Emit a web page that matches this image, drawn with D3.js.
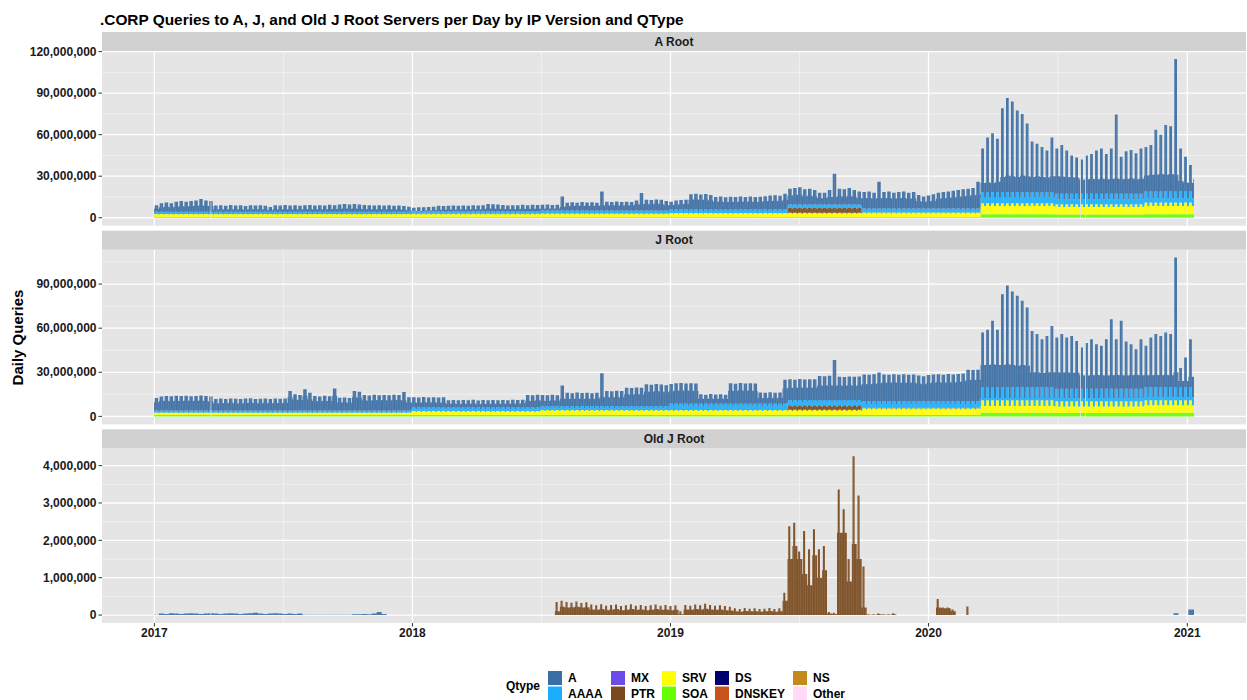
<!DOCTYPE html>
<html>
<head>
<meta charset="utf-8">
<script src="https://cdn.jsdelivr.net/npm/d3@7"></script>
<style>
  body { margin: 0; background: #fff; }
  svg { display: block; font-family: "Liberation Sans", Arial, sans-serif; }
</style>
</head>
<body>
<svg id="chart" width="1247" height="700"></svg>
<script>
// ---- data (daily query counts, millions) ----
var qtypes = ["A", "AAAA", "MX", "PTR", "SRV", "SOA", "DS", "DNSKEY", "NS", "Other"];
var qtypeColors = ["#3b6ea5", "#1aaeff", "#6b4ce6", "#7a4a1e", "#ffff00", "#66ff00", "#000070", "#c8531a", "#c4891c", "#ffd9f5"];
var facetNames = ["A Root", "J Root", "Old J Root"];

var firstDay = "2017-01-01", lastDay = "2021-01-10";
var missingDays = ["2017-03-22", "2020-08-03", "2020-08-10"];

var yearTicks = ["2017-01-01", "2018-01-01", "2019-01-01", "2020-01-01", "2021-01-01"];
var yearLabels = ["2017", "2018", "2019", "2020", "2021"];
var aRootTicks = [0, 30e6, 60e6, 90e6, 120e6];
var jRootTicks = [0, 30e6, 60e6, 90e6];
var oldJTicks = [0, 1e6, 2e6, 3e6, 4e6];

// periods for the slowly changing qtypes
var periodStart = ["2017-01-01", "2017-12-31", "2018-07-01", "2018-12-30", "2019-06-16", "2019-09-29", "2020-03-15", "2020-06-28", "2020-11-01"];
var peakDays = [5, 5, 5, 5, 5, 5, 4, 4, 4];   // busy days per week in each period

var aRootSoa    = [0.5, 0.5, 0.5, 0.6, 0.6, 0.6, 2.5, 2.3, 2.5];
var aRootSrvHi  = [2.2, 2.3, 2.6, 2.8, 3.0, 3.1, 8.0, 7.5, 8.5];
var aRootSrvLo  = [1.8, 1.8, 2.1, 2.3, 2.5, 2.6, 6.0, 5.5, 6.0];
var aRootPtr    = [0, 0, 0, 0, 3.5, 0.2, 0, 0, 0];
var aRootAaaaHi = [1.7, 1.8, 2.2, 2.5, 2.5, 2.8, 8.0, 7.5, 8.0];
var aRootAaaaLo = [1.3, 1.4, 1.7, 2.0, 2.0, 2.3, 6.0, 5.5, 5.5];

var jRootSoa    = [1.0, 1.0, 1.0, 1.0, 1.0, 1.0, 2.5, 2.3, 2.5];
var jRootSrvHi  = [1.7, 2.6, 3.4, 3.4, 3.6, 4.6, 8.5, 8.0, 8.5];
var jRootSrvLo  = [1.3, 2.0, 2.6, 2.6, 2.8, 3.8, 4.5, 4.5, 5.0];
var jRootPtr    = [0, 0, 0, 0, 3.0, 0.2, 0, 0, 0];
var jRootAaaaHi = [1.3, 2.4, 2.6, 4.2, 3.6, 4.5, 9.0, 8.5, 9.0];
var jRootAaaaLo = [0.9, 1.8, 2.0, 3.2, 2.8, 3.5, 5.5, 5.5, 5.5];

// weekly A queries (busy day / quiet day), weeks from 2017-01-01
var aRootAHi = [
  4.6,6.1,6.6,6.1,7.1,7.6,7.1,7.6,8.1,9.1,8.1,7.6,
  4.4,4.6,4.2,4.8,4.4,4.6,4.1,4.7,4.4,4.6,4.3,3.4,
  4.6,4.4,4.8,4.5,4.7,4.3,4.6,4.8,4.4,4.6,4.5,4.9,4.6,
  5.2,5.5,5.1,5.6,5.2,
  4.8,4.6,4.5,4.7,4.4,4.6,4.3,4.5,4.1,3.6,
  2.6,2.9,3.0,3.1,3.3,
  4.0,3.9,4.1,4.2,4.0,4.3,4.1,4.4,4.2,4.5,
  5.3,5.2,5.0,4.6,4.3,4.5,4.4,4.7,4.5,4.8,4.6,
  4.0,4.2,3.9,4.1,10.1,5.5,5.8,5.6,6.0,5.7,5.9,5.6,
  13.7,6.2,6.0,6.4,6.1,6.3,6.0,7.2,12.5,
  7.7,7.5,7.9,7.6,6.8,
  5.6,6.6,6.9,7.1,11.1,11.5,10.8,11.3,10.6,
  9.1,9.4,8.9,9.3,9.0,9.5,9.1,9.4,9.0,9.3,9.6,
  10.1,10.4,10.0,11.5,
  11.4,11.9,12.4,10.9,11.4,10.4,8.4,8.4,10.4,22.2,
  11.4,10.9,11.9,10.4,9.4,
  11.8,12.3,11.3,19.3,11.8,12.3,11.3,11.8,12.3,11.3,11.8,
  9.8,8.7,9.3,10.3,
  11.3,11.8,12.3,12.8,13.3,13.8,14.3,14.8,19.3,
  31.5,39.5,42.5,38.5,60.5,68,65.5,59,56.5,49.5,36.5,35,32.5,30,39.5,
  32.7,35.2,31.2,27.7,26.2,24.7,27.7,28.7,31.2,32.7,28.7,32.7,57.2,26.7,30.7,31.7,29.2,32.7,
  32,33.5,44.6,41,48,47,95.7,31,25,19,33
];
var aRootALo = [
  2.9,3.9,4.4,3.9,4.4,4.9,4.4,4.9,4.9,5.4,4.9,4.9,
  2.4,2.6,2.3,2.6,2.4,2.5,2.2,2.6,2.4,2.5,2.3,1.8,
  2.5,2.4,2.6,2.4,2.6,2.3,2.5,2.6,2.4,2.5,2.4,2.7,2.5,
  2.9,3.1,2.8,3.1,2.9,
  2.6,2.5,2.4,2.6,2.4,2.5,2.3,2.4,2.1,1.6,
  0.9,1.2,1.4,1.5,1.6,
  2.0,2.1,2.2,2.1,2.2,2.3,2.2,2.4,2.3,2.5,
  3.0,2.9,2.8,2.6,2.4,2.5,2.5,2.7,2.6,2.8,2.7,
  2.2,2.4,2.1,2.3,3.4,4.0,4.3,4.1,4.4,4.2,4.3,4.1,
  4.5,4.7,4.5,4.8,4.6,4.7,4.5,5.2,5.5,
  5.7,5.5,5.9,5.6,4.8,
  4.1,4.6,4.9,5.1,8.1,8.4,7.9,8.2,7.6,
  6.6,6.8,6.4,6.7,6.5,6.9,6.6,6.8,6.5,6.7,7.0,
  7.1,7.3,7.0,8.0,
  7.4,7.8,8.2,7.0,7.4,6.8,5.4,5.4,6.4,6.4,
  6.9,6.6,7.2,6.5,5.4,
  8.3,8.6,8.0,8.5,8.3,8.6,8.0,8.3,8.6,8.0,8.3,
  6.3,5.8,6.0,6.6,
  8.0,8.3,8.7,9.0,9.4,9.8,10.1,10.5,11.0,
  10.5,11,10.5,11.5,15,16,15.5,15,16,15.5,15,15.5,15,14.5,15.5,
  16.7,16.5,16.2,16,15.5,14.2,14.5,14.7,14.5,14.8,14.5,14.7,15,14.5,14.7,15,14.5,14.8,
  16.5,17,17,17.5,17,17.5,17,12.5,11.5,11,14
];

var jRootAHi = [
  8.5,9.6,9.9,9.7,10.0,9.8,10.1,9.7,9.9,10.2,9.8,9.6,
  7.8,8.1,7.9,8.2,8.0,7.8,8.1,8.3,7.9,8.0,8.2,7.9,8.1,8.0,8.2,
  13.3,11.0,10.6,14.4,12.0,9.8,9.6,10.0,9.7,14.9,8.7,8.9,8.5,13.3,12.8,
  10.5,10.2,10.7,10.4,10.6,10.3,10.8,10.5,12.6,9.0,
  7.0,6.8,7.2,6.9,7.1,6.8,7.0,
  5.0,5.2,4.9,5.1,5.0,5.3,4.8,5.1,5.0,5.2,4.9,5.1,5.0,5.3,5.1,5.4,
  8.5,8.3,8.7,
  7.5,7.3,7.7,7.4,14.0,9.0,8.8,9.2,8.9,9.1,8.8,9.0,
  22.3,10.3,10.1,10.5,10.2,12.5,12.3,12.7,12.4,
  14.8,14.6,15.0,14.7,14.2,
  13.5,13.9,14.1,13.8,14.0,13.7,
  6.4,6.2,6.6,6.3,6.5,6.2,
  13.9,13.6,14.1,13.8,14.0,13.7,
  7.6,7.4,7.8,7.5,7.7,16.4,
  14.0,13.8,14.2,13.9,14.1,14.0,16.3,16.1,16.5,27.2,
  15.8,15.6,16.0,15.7,15.9,
  18.2,18.0,18.4,19.5,
  18.2,18.0,18.4,18.1,18.3,18.0,18.2,17.5,17.0,17.8,18.2,18.4,18.1,18.5,18.2,18.6,18.9,
  21.5,21.3,21.5,
  37,39,45,39,63,69,65,62,58.6,54,38,36,32.5,34.7,41.5,
  34.8,37.2,34.8,35.9,32.5,28,31.2,33.7,30.2,29.2,33.7,47.2,33.7,46.2,32.2,30.2,26.9,33.7,
  28,33.6,36,34.7,37,36,88,13,20,32.5,34.7
];
var jRootALo = [
  6.5,7.2,7.4,7.1,7.5,7.3,7.6,7.2,7.4,7.6,7.3,7.0,
  5.6,5.9,5.7,6.0,5.8,5.6,5.9,6.1,5.7,5.8,6.0,5.7,5.9,5.8,6.0,
  9.8,8.3,8.0,10.8,8.5,7.3,7.1,7.5,7.2,10.8,6.3,6.5,6.1,9.8,9.4,
  7.8,7.5,8.0,7.7,7.9,7.6,8.1,7.8,7.8,6.3,
  4.7,4.5,4.9,4.6,4.8,4.5,4.7,
  3.7,3.9,3.6,3.8,3.7,4.0,3.5,3.8,3.7,3.9,3.6,3.8,3.7,4.0,3.8,4.1,
  5.9,5.7,6.1,
  5.1,4.9,5.3,5.0,6.4,6.4,6.2,6.6,6.3,6.5,6.2,6.4,
  7.4,7.4,7.2,7.6,7.3,9.4,9.2,9.6,9.3,
  11.4,11.2,11.6,11.3,10.8,
  10.3,10.7,10.9,10.6,10.8,10.5,
  5.2,5.0,5.4,5.1,5.3,5.0,
  10.7,10.4,10.9,10.6,10.8,10.5,
  5.7,5.5,5.9,5.6,5.8,12.2,
  9.9,9.7,10.1,9.8,10.0,9.9,11.4,11.2,11.6,11.4,
  11.4,11.2,11.6,11.3,11.5,
  13.5,13.3,13.7,14.0,
  14.5,14.3,14.7,14.4,14.6,14.3,14.5,13.8,13.3,14.1,14.5,14.7,14.4,14.8,14.5,14.9,15.2,
  16.5,16.3,16.5,
  22.5,22.5,23,22.5,22.5,23,22.5,22,22.5,22,17.5,17.5,17,17.5,17.5,
  17.7,17.5,17.7,17.3,17.5,15.7,15.5,15.7,15.9,15.7,15.5,15.7,15.9,15.7,15.5,15.7,15.9,15.7,
  15,15,15.2,15,15.2,15,17,11,11,14,14
];

// Old J root: weekly PTR (busy / quiet days) and A
var oldJPeakDays = 3;
var oldJPtrHi = [
  0,0,0,0,0,0,0,0,0,0,0,0,0,0,0,0,0,0,0,0,
  0,0,0,0,0,0,0,0,0,0,0,0,0,0,0,0,0,0,0,0,
  0,0,0,0,0,0,0,0,0,0,0,0,0,0,0,0,0,0,0,0,
  0,0,0,0,0,0,0,0,0,0,0,0,0,0,0,0,0,0,0,0,
  0,
  0.35,
  0.38,0.35,0.33,0.36,0.32,0.34,
  0.28,0.26,0.29,0.25,0.27,0.28,0.24,0.26,0.29,0.25,0.27,0.24,0.26,0.28,0.25,0.27,0.24,0.26,
  0.1,
  0.27,0.25,0.28,0.26,0.3,0.27,0.25,0.26,0.24,0.22,
  0.18,0.16,0.19,0.17,0.18,0.16,0.17,0.19,0.16,0.18,
  0.6,2.38,2.47,1.7,2.25,1.76,2.3,1.76,1.85,
  0.08,0.06,
  3.36,2.83,1.5,4.25,3.2,1.3,
  0.02,0.02,0.04,0.02,0.02,
  0.05,
  0,0,0,0,0,0,0,0,
  0.43,0.2,0.2,0.15,
  0,0,
  0.23,
  0,0,0,0,0,0,0,0,0,0,0,0,0,0,0,0,0,0,0,0,0,0,0,0,0,0,0,0,0,0,0,0,0,0,0,0,0,0,0,0,0,0,0,0,0,0
];
var oldJPtrLo = [
  0,0,0,0,0,0,0,0,0,0,0,0,0,0,0,0,0,0,0,0,
  0,0,0,0,0,0,0,0,0,0,0,0,0,0,0,0,0,0,0,0,
  0,0,0,0,0,0,0,0,0,0,0,0,0,0,0,0,0,0,0,0,
  0,0,0,0,0,0,0,0,0,0,0,0,0,0,0,0,0,0,0,0,
  0,
  0.1,
  0.22,0.2,0.21,0.22,0.2,0.21,
  0.15,0.14,0.16,0.13,0.15,0.16,0.13,0.14,0.16,0.14,0.15,0.13,0.14,0.16,0.14,0.15,0.13,0.14,
  0.02,
  0.15,0.14,0.16,0.15,0.17,0.15,0.14,0.15,0.13,0.12,
  0.1,0.09,0.11,0.1,0.1,0.09,0.1,0.11,0.09,0.1,
  0.38,1.5,1.85,1.5,1.1,0.8,1.6,1.0,1.2,
  0.04,0.03,
  2.2,2.2,0.9,1.9,1.5,0.2,
  0.01,0.01,0.02,0.01,0.01,
  0.02,
  0,0,0,0,0,0,0,0,
  0.2,0.18,0.18,0.1,
  0,0,
  0,
  0,0,0,0,0,0,0,0,0,0,0,0,0,0,0,0,0,0,0,0,0,0,0,0,0,0,0,0,0,0,0,0,0,0,0,0,0,0,0,0,0,0,0,0,0,0
];
var oldJA = [
  0.01,
  0.04,0.03,0.05,0.04,0.03,0.04,0.05,0.04,0.03,0.04,0.05,0.04,0.03,0.04,0.05,0.04,0.03,0.04,0.05,0.06,0.04,0.03,0.04,0.05,0.04,0.03,0.04,0.03,0.04,
  0.01,0.01,0.01,0.01,0.01,0.01,0.01,0.01,0.01,0.01,
  0.02,0.02,0.03,0.02,0.04,0.08,0.03,
  0,0,0,0,0,0,0,0,0,0,0,0,0,0,0,0,0,0,0,0,
  0,0,0,0,0,0,0,0,0,0,0,0,0,0,0,0,0,0,0,0,
  0,0,0,0,0,0,0,0,0,0,0,0,0,0,0,0,0,0,0,0,
  0,0,0,0,0,0,0,0,0,0,0,0,0,0,0,0,0,0,0,0,
  0,0,0,0,0,0,0,0,0,0,0,0,0,0,0,0,0,0,0,0,
  0,0,0,0,0,0,0,0,0,0,0,0,0,0,0,0,0,0,0,0,
  0,0,0,0,0,0,0,0,0,0,0,0,0,0,0,0,0,0,0,0,
  0,0,0,0,0,0,0,0,0,0,0,0,0,0,0,0,0,0,0,
  0.05,
  0,0,
  0.15,0.15
];

// ---- layout ----
var W = 1247, H = 700;
var panelLeft = 102, panelRight = 1246;
var facetTop = 32, facetBottom = 623, facetGap = 5, stripH = 19;
var panelFill = "#e5e5e5", stripFill = "#d1d1d1";
var facetH = (facetBottom - facetTop - 2 * facetGap) / 3;

var facets = [
  { name: facetNames[0], ticks: aRootTicks, peak: peakDays,
    weekly: { A: [aRootAHi, aRootALo] },
    periodic: { AAAA: [aRootAaaaHi, aRootAaaaLo], PTR: [aRootPtr, aRootPtr], SRV: [aRootSrvHi, aRootSrvLo], SOA: [aRootSoa, aRootSoa] } },
  { name: facetNames[1], ticks: jRootTicks, peak: peakDays,
    weekly: { A: [jRootAHi, jRootALo] },
    periodic: { AAAA: [jRootAaaaHi, jRootAaaaLo], PTR: [jRootPtr, jRootPtr], SRV: [jRootSrvHi, jRootSrvLo], SOA: [jRootSoa, jRootSoa] } },
  { name: facetNames[2], ticks: oldJTicks, peak: oldJPeakDays,
    weekly: { A: [oldJA, oldJA], PTR: [oldJPtrHi, oldJPtrLo] },
    periodic: {} }
];

[aRootAHi, aRootALo, jRootAHi, jRootALo, oldJPtrHi, oldJPtrLo, oldJA].forEach(function(a, i) {
  if (a.length !== 211) throw new Error("weekly array " + i + " has " + a.length);
});

var parseDay = d3.utcParse("%Y-%m-%d");
var days = d3.utcDay.range(parseDay(firstDay), d3.utcDay.offset(parseDay(lastDay), 1));
var periodDates = periodStart.map(parseDay);
var missing = new Set(missingDays.map(function(s) { return +parseDay(s); }));
var color = d3.scaleOrdinal().domain(qtypes).range(qtypeColors);

function buildRows(f) {
  return days.map(function(date, i) {
    var row = { date: date };
    qtypes.forEach(function(q) { row[q] = 0; });
    if (missing.has(+date)) return row;
    var w = Math.floor(i / 7), dow = i % 7;
    var p = d3.bisectRight(periodDates, date) - 1;
    var nPeak = Array.isArray(f.peak) ? f.peak[p] : f.peak;
    var k = (dow >= 1 && dow <= nPeak) ? 0 : 1;
    Object.keys(f.weekly).forEach(function(q) { row[q] = f.weekly[q][k][w] * 1e6; });
    Object.keys(f.periodic).forEach(function(q) { row[q] = f.periodic[q][k][p] * 1e6; });
    return row;
  });
}

// x: dates, padded 5% like ggplot
var dayMs = 864e5;
var xStart = +days[0] - dayMs / 2, xEnd = +days[days.length - 1] + dayMs / 2;
var xPad = 0.05 * (xEnd - xStart);
var x = d3.scaleUtc().domain([new Date(xStart - xPad), new Date(xEnd + xPad)]).range([panelLeft, panelRight]);
var halfBar = 0.45 * (x(days[1]) - x(days[0]));

var yearDates = yearTicks.map(parseDay);
var midYears = d3.pairs(yearDates).map(function(p) { return new Date((+p[0] + +p[1]) / 2); });

var svg = d3.select("#chart");
svg.append("rect").attr("width", W).attr("height", H).attr("fill", "#fff");

svg.append("text")
  .attr("x", 100).attr("y", 25)
  .attr("font-size", 15.4).attr("font-weight", "bold").attr("fill", "#000")
  .text(".CORP Queries to A, J, and Old J Root Servers per Day by IP Version and QType");

svg.append("text")
  .attr("transform", "translate(23," + ((facetTop + facetBottom) / 2 + 10) + ") rotate(-90)")
  .attr("text-anchor", "middle")
  .attr("font-size", 15).attr("font-weight", "bold").attr("fill", "#000")
  .text("Daily Queries");

var fmt = d3.format(",");

facets.forEach(function(f, fi) {
  var top = facetTop + fi * (facetH + facetGap);
  var pTop = top + stripH, pBot = top + facetH;
  var rows = buildRows(f);
  var stacked = d3.stack().keys(qtypes.slice().reverse())(rows);
  var maxTotal = d3.max(rows, function(r) { return d3.sum(qtypes, function(q) { return r[q]; }); });
  var y = d3.scaleLinear().domain([-0.05 * maxTotal, 1.05 * maxTotal]).range([pBot, pTop]);

  var g = svg.append("g");
  g.append("rect").attr("x", panelLeft).attr("y", pTop)
    .attr("width", panelRight - panelLeft).attr("height", pBot - pTop).attr("fill", panelFill);

  // grid
  var step = f.ticks[1] - f.ticks[0];
  var yMinor = f.ticks.map(function(t) { return t + step / 2; });
  yMinor.unshift(f.ticks[0] - step / 2);
  yMinor = yMinor.filter(function(v) { return v > y.domain()[0] && v < y.domain()[1]; });
  g.selectAll(".ymin").data(yMinor).enter().append("line")
    .attr("x1", panelLeft).attr("x2", panelRight)
    .attr("y1", function(d) { return y(d); }).attr("y2", function(d) { return y(d); })
    .attr("stroke", "#f4f4f4").attr("stroke-width", 0.8);
  g.selectAll(".xmin").data(midYears).enter().append("line")
    .attr("x1", function(d) { return x(d); }).attr("x2", function(d) { return x(d); })
    .attr("y1", pTop).attr("y2", pBot)
    .attr("stroke", "#f4f4f4").attr("stroke-width", 0.8);
  g.selectAll(".ymaj").data(f.ticks).enter().append("line")
    .attr("x1", panelLeft).attr("x2", panelRight)
    .attr("y1", function(d) { return y(d); }).attr("y2", function(d) { return y(d); })
    .attr("stroke", "#fff").attr("stroke-width", 1.3);
  g.selectAll(".xmaj").data(yearDates).enter().append("line")
    .attr("x1", function(d) { return x(d); }).attr("x2", function(d) { return x(d); })
    .attr("y1", pTop).attr("y2", pBot)
    .attr("stroke", "#fff").attr("stroke-width", 1.3);

  // daily stacked bars, one path per qtype
  stacked.forEach(function(layer) {
    var d = "";
    layer.forEach(function(s) {
      if (s[1] - s[0] <= 0) return;
      var cx = x(s.data.date);
      var l = (cx - halfBar).toFixed(2), r = (cx + halfBar).toFixed(2);
      d += "M" + l + "," + y(s[1]).toFixed(2) + "H" + r + "V" + y(s[0]).toFixed(2) + "H" + l + "Z";
    });
    if (d) g.append("path").attr("d", d).attr("fill", color(layer.key));
  });

  // strip
  g.append("rect").attr("x", panelLeft).attr("y", top)
    .attr("width", panelRight - panelLeft).attr("height", stripH).attr("fill", stripFill);
  g.append("text")
    .attr("x", (panelLeft + panelRight) / 2).attr("y", top + stripH / 2)
    .attr("dy", "0.35em").attr("text-anchor", "middle")
    .attr("font-size", 12).attr("font-weight", "bold").attr("fill", "#1a1a1a")
    .text(f.name);

  // y axis
  var ya = g.selectAll(".ytick").data(f.ticks).enter().append("g")
    .attr("transform", function(d) { return "translate(0," + y(d) + ")"; });
  ya.append("line").attr("x1", panelLeft - 3.5).attr("x2", panelLeft).attr("stroke", "#333").attr("stroke-width", 1);
  ya.append("text").attr("x", panelLeft - 5.5).attr("dy", "0.35em")
    .attr("text-anchor", "end").attr("font-size", 12).attr("font-weight", "bold").attr("fill", "#1a1a1a")
    .text(function(d) { return fmt(d); });

  if (fi === facets.length - 1) {
    var xa = g.selectAll(".xtick").data(yearDates).enter().append("g")
      .attr("transform", function(d) { return "translate(" + x(d) + "," + pBot + ")"; });
    xa.append("line").attr("y1", 0).attr("y2", 3.5).attr("stroke", "#333").attr("stroke-width", 1);
    xa.append("text").attr("y", 14).attr("text-anchor", "middle")
      .attr("font-size", 12).attr("font-weight", "bold").attr("fill", "#1a1a1a")
      .text(function(d, i) { return yearLabels[i]; });
  }
});

// legend
var legendColX = [548, 611, 662, 715, 793];
var legendRowY = [671, 686.5];
var keySize = 14;
svg.append("text").attr("x", 506).attr("y", 686).attr("dy", "0.35em")
  .attr("font-size", 12).attr("font-weight", "bold").attr("fill", "#000").text("Qtype");
var lg = svg.selectAll(".key").data(qtypes).enter().append("g")
  .attr("transform", function(d, i) {
    return "translate(" + legendColX[Math.floor(i / 2)] + "," + legendRowY[i % 2] + ")";
  });
lg.append("rect").attr("width", keySize).attr("height", keySize).attr("fill", function(d) { return color(d); });
lg.append("text").attr("x", keySize + 6).attr("y", keySize / 2).attr("dy", "0.35em")
  .attr("font-size", 12).attr("font-weight", "bold").attr("fill", "#000")
  .text(function(d) { return d; });
</script>
</body>
</html>
